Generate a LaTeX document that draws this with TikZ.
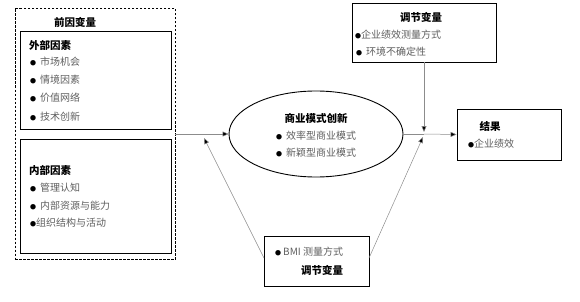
\documentclass[tikz,border=0pt]{standalone}
\usepackage{fontspec}
\setmainfont{Noto Sans CJK SC}
\usepackage{tikz}
\usetikzlibrary{positioning,arrows.meta,shapes.geometric}
\usepackage{xcolor}
\definecolor{txtgray}{HTML}{5E5E5E}
\definecolor{lingray}{HTML}{8C8C8C}
\newcommand{\bdot}{{\color{black}\fontsize{6}{6}\selectfont ●}}
\newcommand{\bitem}[4]{% #1 name, #2 x, #3 y, #4 text
  \node[item] (#1) at (#2,#3) {\bdot\hspace{4pt}#4};
}

\begin{document}
\begin{tikzpicture}[x=1pt,y=-1pt,
    every node/.style={font=\fontsize{10}{12}\selectfont, inner sep=0pt},
    title/.style={font=\fontsize{10.5}{12}\selectfont\bfseries, text=black},
    item/.style={anchor=west, text=txtgray},
    box/.style={draw=black, line width=0.9pt, rectangle},
    conn/.style={draw=lingray, line width=0.5pt},
    tip/.style={conn, -{Triangle[length=6pt,width=5pt,fill=black]}}]
      \useasboundingbox (0,0) rectangle (580,302);
      % antecedents
      \node[draw=black, dash pattern=on 2.5pt off 1.5pt, line width=0.6pt, minimum width=160pt, minimum height=251pt] (ante) at (95,134) {};
      \node[box, minimum width=151pt, minimum height=98pt] (ext) at (95.5,80) {};
      \node[box, minimum width=151pt, minimum height=114pt] (int) at (95.5,196) {};
      \node[title] (anteT) at (75,22) {前因变量};
      \node[title, anchor=west] (extT) at (29,45) {外部因素};
      \bitem{e1}{30}{62}{市场机会}
      \bitem{e2}{30}{80}{情境因素}
      \bitem{e3}{30}{98}{价值网络}
      \bitem{e4}{30}{117}{技术创新}
      \node[title, anchor=west] (intT) at (29,170) {内部因素};
      \bitem{i1}{30}{188}{管理认知}
      \bitem{i2}{30}{206}{内部资源与能力}
      \node[item] (i3) at (30,223) {\bdot 组织结构与活动};
      % business model innovation
      \node[draw=black, line width=0.9pt, ellipse, minimum width=174pt, minimum height=86pt] (bmi) at (316,134) {};
      \node[title] (bmiT) at (316,118) {商业模式创新};
      \bitem{b1}{276}{136}{效率型商业模式}
      \bitem{b2}{276}{153}{新颖型商业模式}
      % moderators
      \node[box, minimum width=144pt, minimum height=59pt] (modtop) at (424,32.5) {};
      \node[title] (modtopT) at (421,17) {调节变量};
      \node[item] (m1) at (355,35) {\bdot 企业绩效测量方式};
      \bitem{m2}{356}{52}{环境不确定性}
      \node[box, minimum width=105pt, minimum height=50pt] (modbot) at (316.5,261) {};
      \node[item] (m3) at (275,252) {\bdot\hspace{2pt}BMI 测量方式};
      \node[title] (modbotT) at (322,270) {调节变量};
      % outcome
      \node[box, minimum width=104pt, minimum height=51pt] (res) at (509,134.5) {};
      \node[title] (resT) at (490,126) {结果};
      \node[item] (r1) at (468,144) {\bdot 企业绩效};
      % connectors
      \coordinate (jn) at (424,134);
      \coordinate (lt) at (204,138);
      \coordinate (rt) at (423,137);
      \coordinate (bl) at (264,258);
      \coordinate (br) at (369,258);
      \draw[tip] (ante.east) -- (bmi.west);
      \draw[conn] (bmi.east) -- (jn);
      \draw[tip] (jn) -- (res.west);
      \draw[tip] (modtop.south) -- ([yshift=2pt]jn);
      \draw[tip] (bl) -- (lt);
      \draw[tip] (br) -- (rt);
    \end{tikzpicture}
\end{document}
